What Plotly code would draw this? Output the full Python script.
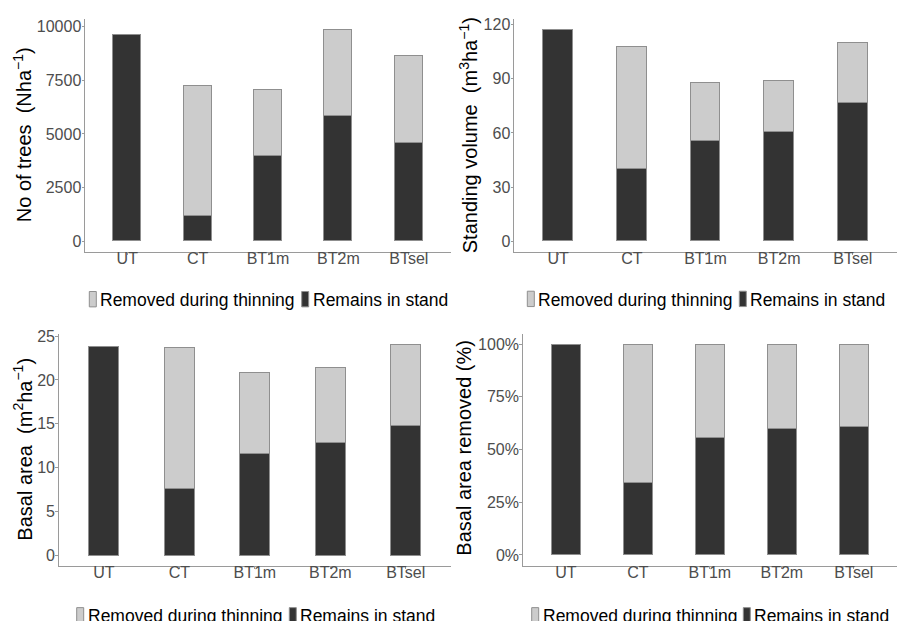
import plotly.graph_objects as go

# Treatments
categories = ["UT", "CT", "BT1m", "BT2m", "BTsel"]

# Number of trees (N ha^-1)
trees_remains = [9620, 1200, 3960, 5820, 4580]
trees_removed = [None, 6035, 3075, 4040, 4070]

# Standing volume (m3 ha^-1)
volume_remains = [117.3, 40.0, 55.5, 60.8, 76.9]
volume_removed = [None, 67.8, 32.0, 28.1, 33.1]

# Basal area (m2 ha^-1)
basal_remains = [23.8, 7.55, 11.6, 12.8, 14.8]
basal_removed = [None, 16.2, 9.3, 8.6, 9.3]

# Basal area share (%)
share_remains = [100, 34.5, 55.5, 60.0, 60.9]
share_removed = [None, 65.5, 44.5, 40.0, 39.1]

# Axis ticks
trees_ticks = [0, 2500, 5000, 7500, 10000]
volume_ticks = [0, 30, 60, 90, 120]
basal_ticks = [0, 5, 10, 15, 20, 25]
share_ticks = [0, 25, 50, 75, 100]
share_labels = ["0%", "25%", "50%", "75%", "100%"]

W, H = 897, 621
DARK = "#333333"
LIGHT = "#cccccc"
EDGE = "#8f8f8f"
AXIS = "#9a9a9a"
FONT = "Liberation Sans, Arial, Helvetica, sans-serif"

fig = go.Figure()

panels = [
    ("x", "y", trees_remains, trees_removed),
    ("x2", "y2", volume_remains, volume_removed),
    ("x3", "y3", basal_remains, basal_removed),
    ("x4", "y4", share_remains, share_removed),
]
for xa, ya, rem, rmv in panels:
    fig.add_trace(go.Bar(x=categories, y=rem, xaxis=xa, yaxis=ya, width=0.4,
                         marker=dict(color=DARK, line=dict(color=EDGE, width=1)),
                         name="Remains in stand", showlegend=False))
    fig.add_trace(go.Bar(x=categories, y=rmv, xaxis=xa, yaxis=ya, width=0.4,
                         marker=dict(color=LIGHT, line=dict(color=EDGE, width=1)),
                         name="Removed during thinning", showlegend=False))


def px_x(v):
    return v / W


def px_y(v):
    return 1 - v / H


def xaxis(x0, x1, anchor):
    return dict(domain=[px_x(x0), min(1.0, px_x(x1))], anchor=anchor,
                range=[-0.6, 4.6], showline=True, linecolor=AXIS, linewidth=1,
                ticks="outside", ticklen=2.5, tickcolor=AXIS, showgrid=False,
                zeroline=False, ticklabelstandoff=-10,
                tickfont=dict(size=16, color="#4d4d4d", family=FONT),
                fixedrange=True)


def yaxis(y_top, y_bot, anchor, rng, ticks, labels=None):
    return dict(domain=[px_y(y_bot), px_y(y_top)], anchor=anchor, range=rng,
                tickvals=ticks, ticktext=labels if labels else [str(t) for t in ticks],
                showline=True, linecolor=AXIS, linewidth=1, ticks="outside",
                ticklen=2.5, tickcolor=AXIS, showgrid=False, zeroline=False,
                ticklabelstandoff=-3,
                tickfont=dict(size=16, color="#4d4d4d", family=FONT), fixedrange=True)


fig.update_layout(
    width=W, height=H, barmode="stack", bargap=0,
    margin=dict(l=0, r=0, t=0, b=0),
    paper_bgcolor="white", plot_bgcolor="white",
    font=dict(family=FONT),
    xaxis=xaxis(85, 451, "y"),
    yaxis=yaxis(13, 248, "x", [-480, 10360], trees_ticks),
    xaxis2=xaxis(514, 898, "y2"),
    yaxis2=yaxis(13, 248, "x2", [-5.8, 123.2], volume_ticks),
    xaxis3=xaxis(58.7, 451, "y3"),
    yaxis3=yaxis(330.7, 565, "x3", [-1.2, 25.3], basal_ticks),
    xaxis4=xaxis(522.7, 898, "y4"),
    yaxis4=yaxis(330.7, 565, "x4", [-5, 105], share_ticks, share_labels),
)

annotations = []
shapes = []

# Axis titles
titles = [
    ("No of trees  (Nha<sup>\u22121</sup>)", 22, 130.5),
    ("Standing volume  (m<sup>3</sup>ha<sup>\u22121</sup>)", 468, 130.5),
    ("Basal area  (m<sup>2</sup>ha<sup>\u22121</sup>)", 23, 448),
    ("Basal area removed (%)", 464, 446),
]
for text, cx, cy in titles:
    annotations.append(dict(text=text, x=px_x(cx), y=px_y(cy), xref="paper",
                            yref="paper", xanchor="center", yanchor="middle",
                            textangle=-90, showarrow=False,
                            font=dict(size=20, color="black", family=FONT)))


# Legends below each panel
def legend(x0, x1, top):
    for kx, color, label in [(x0, LIGHT, "Removed during thinning"),
                             (x1, DARK, "Remains in stand")]:
        shapes.append(dict(type="rect", xref="paper", yref="paper",
                           x0=px_x(kx), x1=px_x(kx + 7),
                           y0=px_y(top + 15.5), y1=px_y(top),
                           fillcolor=color, line=dict(color=EDGE, width=1)))
        annotations.append(dict(text=label, x=px_x(kx + 9), y=px_y(top + 8.5),
                                xref="paper", yref="paper", xanchor="left",
                                yanchor="middle", showarrow=False,
                                font=dict(size=17.5, color="black", family=FONT)))


legend(89.3, 301.7, 288.3)
legend(527.3, 739.3, 288.0)
legend(76.7, 289.3, 607.5)
legend(531.7, 743.3, 607.5)

fig.update_layout(annotations=annotations, shapes=shapes)

fig.write_html("out.html")
